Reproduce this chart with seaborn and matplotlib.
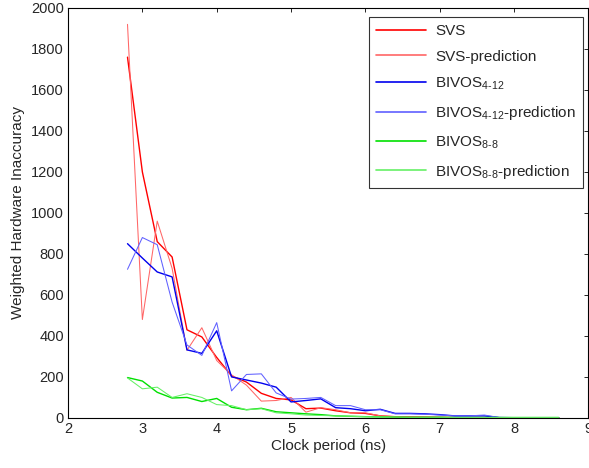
import numpy as np
import pandas as pd
import matplotlib
matplotlib.use("Agg")
import matplotlib.pyplot as plt
import seaborn as sns

# clock period grid (ns)
clock = [2.8, 3.0, 3.2, 3.4, 3.6, 3.8, 4.0, 4.2, 4.4, 4.6, 4.8, 5.0, 5.2, 5.4, 5.6,
         5.8, 6.0, 6.2, 6.4, 6.6, 6.8, 7.0, 7.2, 7.4, 7.6, 7.8, 8.0, 8.2, 8.4, 8.6]

svs = [1760, 1200, 860, 785, 430, 395, 295, 205, 175, 120, 95, 88, 45, 48, 35,
       25, 22, 10, 6, 5, 4, 3, 2, 2, 2, 1, 1, 1, 1, 1]
svs_pred = [1920, 480, 960, 730, 330, 440, 280, 210, 160, 82, 85, 100, 28, 50, 40,
            25, 25, 10, 6, 5, 4, 3, 2, 2, 2, 1, 1, 1, 1, 1]
bivos412 = [850, 780, 712, 688, 332, 315, 425, 200, 185, 170, 150, 78, 85, 93, 50,
            45, 35, 42, 22, 22, 20, 16, 10, 10, 10, 2, 1, 1, 1, 1]
bivos412_pred = [725, 880, 845, 565, 356, 305, 465, 132, 212, 215, 122, 92, 95, 100, 60,
                 60, 40, 40, 20, 20, 18, 14, 10, 10, 14, 2, 1, 1, 1, 1]
bivos88 = [197, 180, 125, 97, 100, 80, 95, 52, 40, 47, 30, 25, 20, 16, 10,
           8, 6, 5, 4, 3, 3, 3, 2, 2, 2, 2, 2, 2, 2, 2]
bivos88_pred = [195, 142, 150, 100, 118, 100, 65, 60, 40, 45, 25, 20, 14, 12, 10,
                8, 6, 5, 4, 3, 3, 3, 2, 2, 2, 2, 2, 2, 2, 2]

labels = ["SVS", "SVS-prediction",
          "BIVOS$_{\\mathregular{4\u201012}}$", "BIVOS$_{\\mathregular{4\u201012}}$-prediction",
          "BIVOS$_{\\mathregular{8\u20108}}$", "BIVOS$_{\\mathregular{8\u20108}}$-prediction"]
series = [svs, svs_pred, bivos412, bivos412_pred, bivos88, bivos88_pred]
colors = ["#ff0000", "#ff6666", "#0000ee", "#6060ff", "#00e000", "#66f066"]
widths = [1.0, 0.75, 1.0, 0.75, 1.0, 0.75]

sns.set_style("white")
plt.rcParams["font.family"] = ["Liberation Sans", "DejaVu Sans"]
plt.rcParams["mathtext.fontset"] = "custom"
plt.rcParams["mathtext.rm"] = "Liberation Sans"

fig = plt.figure(figsize=(5.89, 4.68), dpi=100)
ax = fig.add_axes([0.1155, 0.107, 0.8835, 0.876])

for vals, lab, c, w in zip(series, labels, colors, widths):
    df = pd.DataFrame({"clock": clock, "value": vals})
    sns.lineplot(data=df, x="clock", y="value", ax=ax, color=c, linewidth=w, label=lab)

ax.set_xlim(2, 9)
ax.set_ylim(0, 2000)
ax.set_xticks(range(2, 10))
ax.set_yticks(range(0, 2001, 200))
ax.set_xlabel("Clock period (ns)", fontsize=11, labelpad=2)
ax.set_ylabel("Weighted Hardware Inaccuracy", fontsize=11, labelpad=4)
ax.tick_params(direction="in", top=True, right=True, length=3, width=0.6,
               labelsize=10.5, color="black", pad=3)
for s in ax.spines.values():
    s.set_color("black")
    s.set_linewidth(0.8)

leg = ax.legend(loc="upper right", bbox_to_anchor=(0.99, 0.978), fontsize=11,
                frameon=True, fancybox=False, edgecolor="black", borderaxespad=0,
                handlelength=3.3, handletextpad=0.6, labelspacing=0.78, borderpad=0.45)
leg.get_frame().set_linewidth(0.8)
for h in leg.get_lines():
    h.set_linewidth(1.2)

fig.savefig("out.png", dpi=100)
